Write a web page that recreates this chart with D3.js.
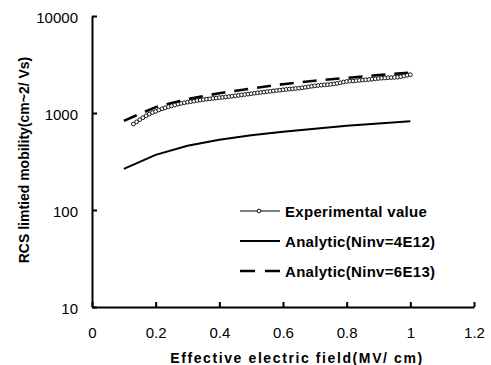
<!DOCTYPE html>
<html>
<head>
<meta charset="utf-8">
<script src="https://cdn.jsdelivr.net/npm/d3@7"></script>
<style>
  body { margin: 0; background: #fff; }
  text { font-family: "Liberation Sans", Arial, sans-serif; fill: #000; }
</style>
</head>
<body>
<div id="chart"></div>
<script>
// field values (MV/cm)
const fieldAnalytic = [0.1, 0.2, 0.3, 0.4, 0.5, 0.6, 0.7, 0.8, 0.9, 1.0];
const mobility4E12 = [265, 370, 460, 530, 590, 640, 690, 740, 780, 820];
const mobility6E13 = [830, 1150, 1390, 1600, 1790, 1980, 2150, 2300, 2460, 2600];

const fieldExp = [
    0.13, 0.14, 0.15, 0.16, 0.17, 0.18, 0.19, 0.20, 0.21, 0.22,
    0.23, 0.24, 0.25, 0.26, 0.27, 0.28, 0.29, 0.30, 0.31, 0.32,
    0.33, 0.34, 0.35, 0.36, 0.37, 0.38, 0.39, 0.40, 0.41, 0.42,
    0.43, 0.44, 0.45, 0.46, 0.47, 0.48, 0.49, 0.50, 0.51, 0.52,
    0.53, 0.54, 0.55, 0.56, 0.57, 0.58, 0.59, 0.60, 0.61, 0.62,
    0.63, 0.64, 0.65, 0.66, 0.67, 0.68, 0.69, 0.70, 0.71, 0.72,
    0.73, 0.74, 0.75, 0.76, 0.77, 0.78, 0.79, 0.80, 0.81, 0.82,
    0.83, 0.84, 0.85, 0.86, 0.87, 0.88, 0.89, 0.90, 0.91, 0.92,
    0.93, 0.94, 0.95, 0.96, 0.97, 0.98, 0.99, 1.00
];
const mobilityExp = [
    770, 810, 855, 895, 935, 975, 1010, 1040, 1075, 1105,
    1130, 1160, 1185, 1210, 1235, 1255, 1275, 1295, 1310, 1325,
    1345, 1360, 1375, 1390, 1400, 1415, 1425, 1440, 1450, 1465,
    1475, 1490, 1505, 1520, 1535, 1550, 1565, 1580, 1600, 1615,
    1630, 1645, 1660, 1675, 1690, 1705, 1720, 1735, 1750, 1765,
    1775, 1790, 1800, 1820, 1840, 1860, 1885, 1905, 1920, 1935,
    1950, 1960, 1975, 1995, 2020, 2050, 2085, 2115, 2130, 2140,
    2155, 2170, 2185, 2200, 2215, 2230, 2250, 2270, 2285, 2300,
    2310, 2320, 2330, 2340, 2370, 2410, 2450, 2480
];

const xTicks = [0, 0.2, 0.4, 0.6, 0.8, 1, 1.2];
const yTicks = [10, 100, 1000, 10000];
const legendLabels = ['Experimental value', 'Analytic(Ninv=4E12)', 'Analytic(Ninv=6E13)'];

const width = 491, height = 365;
const margin = { top: 16, right: 17, bottom: 58, left: 92 };

const svg = d3.select('#chart').append('svg')
    .attr('width', width)
    .attr('height', height);

const x = d3.scaleLinear()
    .domain([0, 1.2])
    .range([margin.left, width - margin.right]);

const y = d3.scaleLog()
    .domain([10, 10000])
    .range([height - margin.bottom, margin.top]);

// axes
const xAxis = svg.append('g')
    .attr('transform', 'translate(0,' + (height - margin.bottom) + ')')
    .call(d3.axisBottom(x).tickValues(xTicks).tickFormat(d3.format('')).tickSizeInner(-5).tickSizeOuter(0).tickPadding(20));

const yAxis = svg.append('g')
    .attr('transform', 'translate(' + margin.left + ',0)')
    .call(d3.axisLeft(y).tickValues(yTicks).tickFormat(d3.format('d')).tickSizeInner(-5).tickSizeOuter(0).tickPadding(14));

svg.selectAll('.domain').attr('stroke', '#000').attr('stroke-width', 2);
svg.selectAll('.tick line').attr('stroke', '#000').attr('stroke-width', 2);
svg.selectAll('.tick text')
    .style('font-family', '"Liberation Sans", Arial, sans-serif')
    .style('font-size', '15px')
    .attr('fill', '#000');
yAxis.selectAll('.tick text').attr('dy', '0.45em');

// axis titles
svg.append('text')
    .attr('x', 297)
    .attr('y', 363)
    .attr('text-anchor', 'middle')
    .style('font-size', '14px')
    .style('font-weight', 'bold')
    .style('letter-spacing', '1.6px')
    .text('Effective electric field(MV/ cm)');

svg.append('text')
    .attr('transform', 'translate(29,160) rotate(-90)')
    .attr('text-anchor', 'middle')
    .style('font-size', '14px')
    .style('font-weight', 'bold')
    .text('RCS limtied mobility(cm~2/ Vs)');

// lines
const line = d3.line()
    .x(d => x(d[0]))
    .y(d => y(d[1]));

svg.append('path')
    .datum(d3.zip(fieldAnalytic, mobility4E12))
    .attr('d', line)
    .attr('fill', 'none')
    .attr('stroke', '#000')
    .attr('stroke-width', 2);

svg.append('path')
    .datum(d3.zip(fieldAnalytic, mobility6E13))
    .attr('d', line)
    .attr('fill', 'none')
    .attr('stroke', '#000')
    .attr('stroke-width', 2.6)
    .attr('stroke-dasharray', '14,9');

const expData = d3.zip(fieldExp, mobilityExp);
svg.append('g')
    .selectAll('circle')
    .data(expData)
    .enter()
    .append('circle')
    .attr('cx', d => x(d[0]))
    .attr('cy', d => y(d[1]))
    .attr('r', 1.9)
    .attr('fill', '#fff')
    .attr('stroke', '#000')
    .attr('stroke-width', 0.9);

// legend
const legend = svg.append('g');
const legendY = [211, 241, 271];
legendLabels.forEach((label, i) => {
    const item = legend.append('g').attr('transform', 'translate(240,' + legendY[i] + ')');
    const l = item.append('line')
        .attr('x1', 0).attr('x2', 40)
        .attr('y1', 0).attr('y2', 0)
        .attr('stroke', '#000');
    if (i === 0) {
        l.attr('stroke-width', 1);
        item.append('circle')
            .attr('cx', 19).attr('cy', 0).attr('r', 1.9)
            .attr('fill', '#fff').attr('stroke', '#000').attr('stroke-width', 0.9);
    } else if (i === 1) {
        l.attr('stroke-width', 2);
    } else {
        l.attr('stroke-width', 2.6).attr('stroke-dasharray', '15,10');
    }
    item.append('text')
        .attr('x', 45)
        .attr('y', 5.5)
        .style('font-size', '15px')
        .style('font-weight', 'bold')
        .style('letter-spacing', '0.3px')
        .text(label);
});
</script>
</body>
</html>
